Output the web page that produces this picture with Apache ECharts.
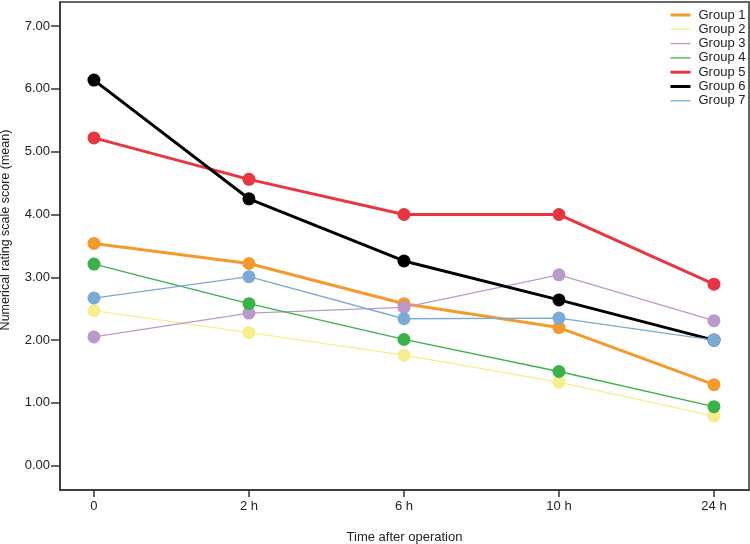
<!DOCTYPE html>
<html>
<head>
<meta charset="utf-8">
<script src="https://cdn.jsdelivr.net/npm/echarts@6/dist/echarts.min.js"></script>
<style>html,body{margin:0;padding:0;background:#fff}#c{width:750px;height:544px}</style>
</head>
<body>
<div id="c"></div>
<script>
var categories = ['0', '2 h', '6 h', '10 h', '24 h'];
var yTicks = [0, 1, 2, 3, 4, 5, 6, 7];
var groupNames = ['Group 1', 'Group 2', 'Group 3', 'Group 4', 'Group 5', 'Group 6', 'Group 7'];
var group1 = [3.54, 3.22, 2.58, 2.20, 1.29];
var group2 = [2.47, 2.12, 1.76, 1.33, 0.79];
var group3 = [2.05, 2.43, 2.52, 3.04, 2.31];
var group4 = [3.21, 2.58, 2.01, 1.50, 0.94];
var group5 = [5.22, 4.56, 4.00, 4.00, 2.89];
var group6 = [6.14, 4.25, 3.26, 2.64, 2.00];
var group7 = [2.67, 3.01, 2.34, 2.35, 2.00];

var values = [group1, group2, group3, group4, group5, group6, group7];
var colors = ['#F39A2C', '#F6EE8C', '#B99ACB', '#3AB24A', '#E7363F', '#000000', '#7AAAD6'];
var widths = [3, 1.3, 1.3, 1.3, 3, 3, 1.3];

var chart = echarts.init(document.getElementById('c'), null, {renderer: 'canvas'});
var FONT = 'Liberation Sans, Arial, sans-serif';

var series = values.map(function (arr, i) {
  return {
    name: groupNames[i],
    type: 'line',
    data: arr.map(function (v, j) { return [j, v]; }),
    symbol: 'circle',
    symbolSize: 13,
    color: colors[i],
    lineStyle: {color: colors[i], width: widths[i]},
    itemStyle: {color: colors[i]},
    emphasis: {disabled: true},
    animation: false,
    z: 2 + i
  };
});

chart.setOption({
  animation: false,
  backgroundColor: '#fff',
  grid: {left: 60, right: 1, top: 2, bottom: 54, outerBoundsMode: 'none', containLabel: false,
         show: true, borderColor: '#333', borderWidth: 1.5, backgroundColor: 'transparent'},
  legend: {
    orient: 'vertical',
    left: 669,
    top: 8.5,
    padding: 0,
    itemWidth: 20,
    itemHeight: 12,
    itemGap: 1.3,
    itemStyle: {opacity: 0},
    textStyle: {fontFamily: FONT, fontSize: 13, color: '#222', padding: [0, 0, 0, 3], lineHeight: 13},
    data: groupNames.map(function (n, i) {
      return {name: n, lineStyle: {width: widths[i] > 2 ? 3 : 1.3, color: colors[i]}};
    })
  },
  xAxis: {
    type: 'value',
    min: -0.219,
    max: 4.226,
    name: 'Time after operation',
    nameLocation: 'middle',
    nameGap: 41,
    nameTextStyle: {fontFamily: FONT, fontSize: 13, color: '#222'},
    splitLine: {show: false},
    axisLine: {show: true, onZero: false, lineStyle: {color: '#333', width: 1.5}},
    axisTick: {show: true, length: 7, lineStyle: {color: '#333', width: 1.5}, customValues: [0, 1, 2, 3, 4]},
    axisLabel: {
      fontFamily: FONT, fontSize: 13, color: '#222', margin: 10,
      customValues: [0, 1, 2, 3, 4],
      formatter: function (v) { return categories[Math.round(v)]; }
    }
  },
  yAxis: {
    type: 'value',
    min: -0.387,
    max: 7.384,
    name: 'Numerical rating scale score (mean)',
    nameLocation: 'middle',
    nameGap: 48,
    nameTextStyle: {fontFamily: FONT, fontSize: 12.5, color: '#222', padding: [0, 0, 0, 32]},
    splitLine: {show: false},
    axisLine: {show: true, onZero: false, lineStyle: {color: '#333', width: 1.5}},
    axisTick: {show: true, length: 9, lineStyle: {color: '#333', width: 1.5}, customValues: yTicks},
    axisLabel: {
      fontFamily: FONT, fontSize: 13, color: '#222', margin: 10,
      customValues: yTicks,
      formatter: function (v) { return v.toFixed(2); }
    }
  },
  series: series
});
</script>
</body>
</html>
